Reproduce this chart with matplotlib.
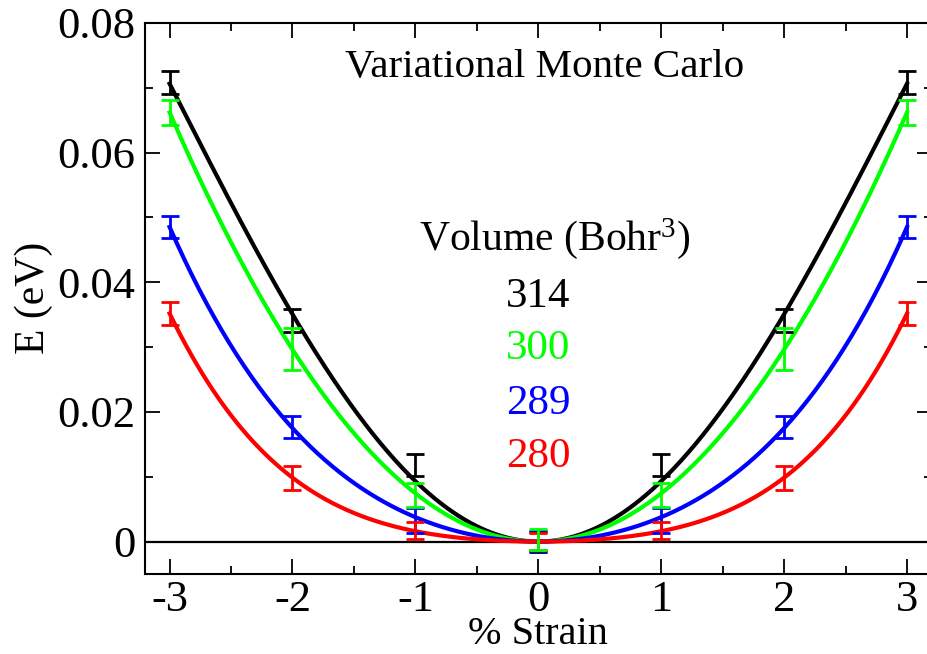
import numpy as np
import matplotlib
matplotlib.use("Agg")
import matplotlib.pyplot as plt
from matplotlib.ticker import MultipleLocator

plt.rcParams['font.family'] = ['Liberation Serif', 'DejaVu Serif']
plt.rcParams['mathtext.fontset'] = 'custom'
plt.rcParams['mathtext.rm'] = 'Liberation Serif'
plt.rcParams['mathtext.it'] = 'Liberation Serif:italic'

strain = [-3, -2, -1, 0, 1, 2, 3]
volumes = ["314", "300", "289", "280"]
colors = ["#000000", "#00ff00", "#0000ff", "#ff0000"]
E_314 = [0.0708, 0.0341, 0.01175, 0.0, 0.01175, 0.0341, 0.0708]
E_300 = [0.0662, 0.0297, 0.00725, 0.0003, 0.00725, 0.0297, 0.0662]
E_289 = [0.0485, 0.0177, 0.00327, 0.0, 0.00327, 0.0177, 0.0485]
E_280 = [0.0352, 0.0098, 0.00175, 0.0, 0.00175, 0.0098, 0.0352]
err_314 = [0.0018, 0.00175, 0.0017, 0.0016, 0.0017, 0.00175, 0.0018]
err_300 = [0.0019, 0.0033, 0.00185, 0.0016, 0.00185, 0.0033, 0.0019]
err_289 = [0.0017, 0.00165, 0.0019, 0.0015, 0.0019, 0.00165, 0.0017]
err_280 = [0.00175, 0.0018, 0.0013, 0.0013, 0.0013, 0.0018, 0.00175]

series = [E_314, E_300, E_289, E_280]
errors = [err_314, err_300, err_289, err_280]

W, H = 928, 654
fig = plt.figure(figsize=(W/100, H/100), dpi=100)
ax = fig.add_axes([145/W, 80/H, (931.6-145)/W, 551/H])

ax.axhline(0, color='black', lw=1.6, zorder=1)

xs = np.linspace(-3, 3, 400)
x = np.array(strain, dtype=float)
for E, c in zip(series, colors):
    y = np.array(E)
    A = np.vstack([x**2, x**4]).T
    coef, *_ = np.linalg.lstsq(A, y, rcond=None)
    ax.plot(xs, coef[0]*xs**2 + coef[1]*xs**4, color=c, lw=3.0, zorder=2)

for idx in [0, 2, 3, 1]:
    ax.errorbar(strain, series[idx], yerr=errors[idx], fmt='none',
                ecolor=colors[idx], elinewidth=2.0, capsize=6.5,
                capthick=2.0, zorder=3)

ax.set_xlim(-3.2, 3.2)
ax.set_ylim(-0.005, 0.08)
ax.xaxis.set_minor_locator(MultipleLocator(0.5))
ax.yaxis.set_minor_locator(MultipleLocator(0.01))
ax.set_yticks([0, 0.02, 0.04, 0.06, 0.08])
ax.set_yticklabels(["0", "0.02", "0.04", "0.06", "0.08"])
ax.set_xticks([-3, -2, -1, 0, 1, 2, 3])
ax.set_xticklabels(["-3", "-2", "-1", "0", "1", "2", "3"])
ax.tick_params(which='both', direction='in', top=True, right=True, width=1.3)
ax.tick_params(which='major', length=11, labelsize=32, pad=7)
ax.tick_params(axis='x', which='major', pad=4)
ax.tick_params(which='minor', length=6)
for s in ax.spines.values():
    s.set_linewidth(1.5)

fig.text(538/W, 1 - 644/H, "% Strain", fontsize=29, ha='center', va='baseline')
fig.text(34/W, 1 - 298/H, "E (eV)", fontsize=30, ha='center', va='center',
         rotation=90)

ax.text(-1.573, 0.0731, "Variational Monte Carlo", fontsize=29.5,
        ha='left', va='center')
ax.text(-0.97, 0.0468, "Volume (Bohr$^{3}$)", fontsize=30, ha='left',
        va='center')
label_y = [0.0377, 0.0297, 0.0213, 0.0131]
for lab, c, yy in zip(volumes, colors, label_y):
    ax.text(0.0, yy, lab, fontsize=31, color=c, ha='center', va='center')

fig.savefig("out.png", dpi=100)
